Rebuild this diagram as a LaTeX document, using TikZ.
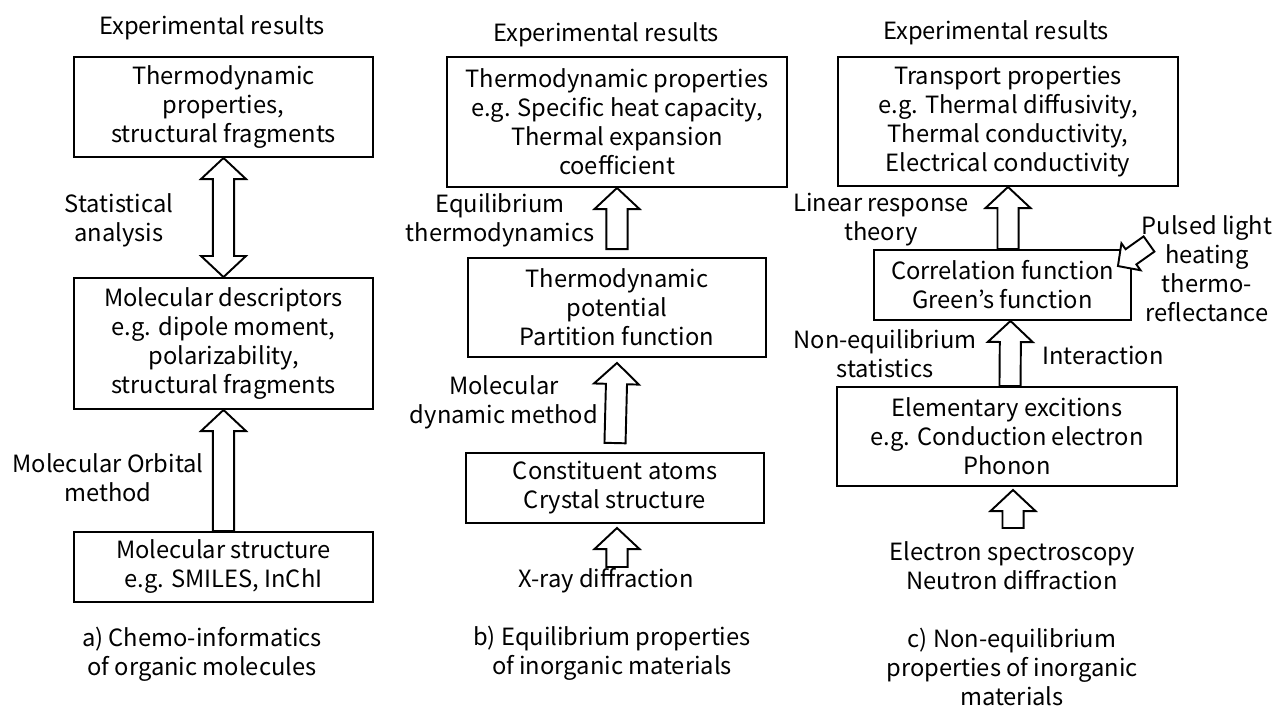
\documentclass[tikz,border=0pt]{standalone}
\usepackage{fontspec}
\setmainfont{Noto Sans CJK JP}
\usetikzlibrary{calc}

\tikzset{
  arrsw/.store in=\arrsw, arrhw/.store in=\arrhw, arrhl/.store in=\arrhl,
  arrsw=6pt, arrhw=12.8pt, arrhl=12pt,
  blockarr/.style={draw, line width=1.1pt, fill=white, line join=miter,
    to path={($(\tikztotarget)!\arrhl!(\tikztostart)$) coordinate (ah)
      ($(\tikztostart)!\arrsw!90:(\tikztotarget)$)
      -- ($(ah)!\arrsw!-90:(\tikztostart)$)
      -- ($(ah)!\arrhw!-90:(\tikztostart)$)
      -- (\tikztotarget)
      -- ($(ah)!\arrhw!90:(\tikztostart)$)
      -- ($(ah)!\arrsw!90:(\tikztostart)$)
      -- ($(\tikztostart)!\arrsw!-90:(\tikztotarget)$)
      -- cycle}},
  dblarr/.style={draw, line width=1.1pt, fill=white, line join=miter,
    to path={($(\tikztotarget)!\arrhl!(\tikztostart)$) coordinate (ah)
      ($(\tikztostart)!\arrhl!(\tikztotarget)$) coordinate (at)
      (\tikztostart)
      -- ($(at)!\arrhw!90:(\tikztotarget)$)
      -- ($(at)!\arrsw!90:(\tikztotarget)$)
      -- ($(ah)!\arrsw!-90:(\tikztostart)$)
      -- ($(ah)!\arrhw!-90:(\tikztostart)$)
      -- (\tikztotarget)
      -- ($(ah)!\arrhw!90:(\tikztostart)$)
      -- ($(ah)!\arrsw!90:(\tikztostart)$)
      -- ($(at)!\arrsw!-90:(\tikztotarget)$)
      -- ($(at)!\arrhw!-90:(\tikztotarget)$)
      -- cycle}}
}

\begin{document}
\begin{tikzpicture}[x=0.02cm,y=-0.02cm,font=\fontsize{13.5pt}{16.5pt}\selectfont]
        \tikzstyle{box}=[draw,line width=1.1pt,align=center,inner sep=0pt]
        \tikzstyle{lbl}=[align=center,inner sep=0pt]

        \useasboundingbox (0,0) rectangle (1278,708);

        % a)
        \node[lbl]  (EA) at (212,28)   {Experimental results};
        \node[box,minimum width=5.98cm,minimum height=2cm]    (A1) at (223.5,107)
              {Thermodynamic\\properties,\\structural fragments};
        \node[box,minimum width=5.98cm,minimum height=2.62cm] (A2) at (223.5,343.5)
              {Molecular descriptors\\e.g. dipole moment,\\polarizability,\\structural fragments};
        \node[box,minimum width=5.98cm,minimum height=1.4cm]  (A3) at (223.5,567)
              {Molecular structure\\e.g. SMILES, InChI};
        \node[lbl]  (SA) at (119,220)  {Statistical\\analysis};
        \node[lbl]  (MA) at (108,478)  {Molecular Orbital\\method};
        \node[lbl]  (CA) at (202,654)  {a) Chemo-informatics\\of organic molecules};

        % b)
        \node[lbl]  (EB) at (606,35)   {Experimental results};
        \node[box,minimum width=6.8cm,minimum height=2.6cm]   (B1) at (617,122)
              {Thermodynamic properties\\e.g. Specific heat capacity,\\Thermal expansion\\coefficient};
        \node[box,minimum width=5.96cm,minimum height=1.98cm] (B2) at (617,307.5)
              {Thermodynamic\\potential\\Partition function};
        \node[box,minimum width=5.96cm,minimum height=1.4cm]  (B3) at (615,488)
              {Constituent atoms\\Crystal structure};
        \node[lbl]  (QB) at (500,220)  {Equilibrium\\thermodynamics};
        \node[lbl]  (MB) at (504,402)  {Molecular\\dynamic method};
        \node[lbl]  (XB) at (606,581)  {X-ray diffraction};
        \node[lbl]  (CB) at (612,653)  {b) Equilibrium properties\\of inorganic materials};
        \coordinate (XT) at (617,567);

        % c)
        \node[lbl]  (EC) at (996,33)   {Experimental results};
        \node[box,minimum width=6.8cm,minimum height=2.58cm]  (C1) at (1008,121.5)
              {Transport properties\\e.g. Thermal diffusivity,\\Thermal conductivity,\\Electrical conductivity};
        \node[box,minimum width=5.14cm,minimum height=1.4cm]  (C2) at (1002.5,285)
              {Correlation function\\Green’s function};
        \node[box,minimum width=6.8cm,minimum height=1.98cm]  (C3) at (1007,436.5)
              {Elementary excitions\\e.g. Conduction electron\\Phonon};
        \node[lbl]  (LC) at (881,220)  {Linear response\\theory};
        \node[lbl]  (PC) at (1207,269) {Pulsed light\\heating\\thermo-\\reflectance};
        \node[lbl]  (NC) at (885,354)  {Non-equilibrium\\statistics};
        \node[lbl,anchor=west] (IC) at (1042,355) {Interaction};
        \node[lbl]  (SC) at (1012,566) {Electron spectroscopy\\Neutron diffraction};
        \node[lbl]  (CC) at (1012,667) {c) Non-equilibrium\\properties of inorganic\\materials};
        \coordinate (PT) at (1149,244);
        \coordinate (ST) at (1013,528);

        \path (A1.south) edge[dblarr]   (A2.north)
              (A3.north) edge[blockarr] (A2.south)
              ($(B2.north)+(0,-8)$) edge[blockarr] (B1.south)
              ($(B3.north)+(0,-9)$) edge[blockarr] ($(B2.south)+(0,5)$)
              (XT)       edge[blockarr] ($(B3.south)+(2,4)$)
              (C2.north -| C1.south) edge[blockarr] (C1.south)
              ($(C3.north)+(3,0)$)   edge[blockarr] ($(C2.south)+(8,0)$)
              (ST)       edge[blockarr] ($(C3.south)+(6,3)$)
              (PT)       edge[blockarr,arrsw=5.3pt,arrhw=9.4pt,arrhl=9.1pt] ($(C2.north east)+(-14,17)$);
\end{tikzpicture}
\end{document}
